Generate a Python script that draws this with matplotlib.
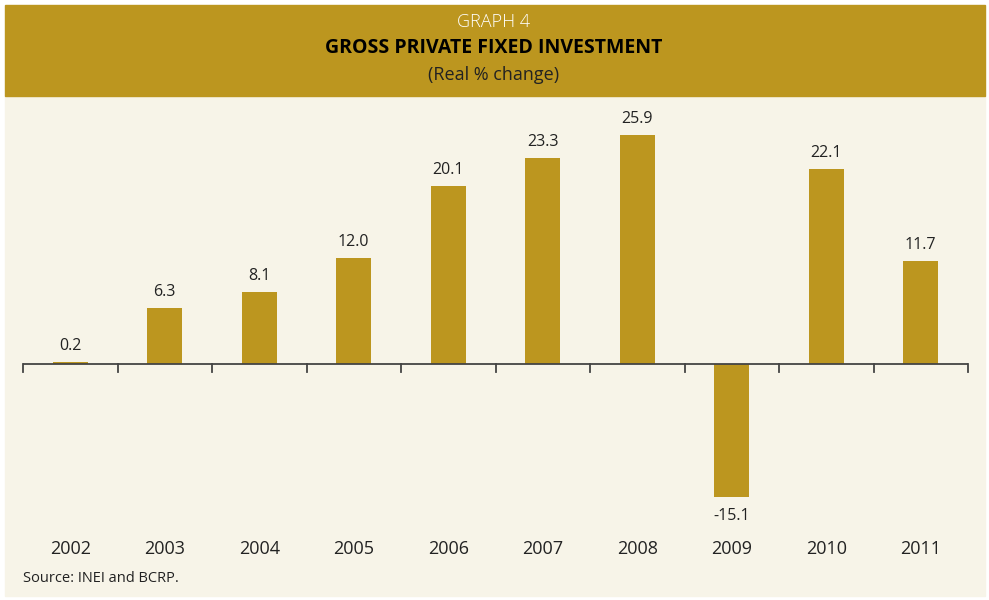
import matplotlib.pyplot as plt
from matplotlib.patches import Rectangle
import numpy as np

years = ['2002', '2003', '2004', '2005', '2006', '2007', '2008', '2009', '2010', '2011']
growth = [0.2, 6.3, 8.1, 12.0, 20.1, 23.3, 25.9, -15.1, 22.1, 11.7]

gold = '#BC961F'
cream = '#F7F4E8'

plt.rcParams['font.family'] = ['Open Sans', 'DejaVu Sans']

fig = plt.figure(figsize=(9.89, 6), dpi=100)
W, H = 989, 600

# background panels (kept behind the axes)
fig.patches.append(Rectangle((5/W, 4/H), 980/W, 500/H, transform=fig.transFigure,
                             color=cream, zorder=-2))
fig.patches.append(Rectangle((5/W, 1 - 96/H), 980/W, 91/H, transform=fig.transFigure,
                             color=gold, zorder=-1))

fig.text(494/W, 1 - 22/H, 'GRAPH 4', ha='center', va='center', color='white',
         fontsize=13, fontweight='light')
fig.text(494/W, 1 - 48/H, 'GROSS PRIVATE FIXED INVESTMENT', ha='center', va='center',
         color='black', fontsize=14, fontweight='bold')
fig.text(494/W, 1 - 75/H, '(Real % change)', ha='center', va='center', color='#222222',
         fontsize=13)

# axes: zero line at y=364px, 8.84 px per point
ax = fig.add_axes([23/W, 1 - 520/H, 945/W, 420/H])
ax.set_facecolor('none')
x = np.arange(len(years))
ax.bar(x, growth, width=0.37, color=gold, zorder=2)
ax.set_xlim(-0.5, len(years) - 0.5)
ax.set_ylim(-156/8.84, 264/8.84)

for xi, v in zip(x, growth):
    if v >= 0:
        ax.text(xi, v + 0.9, f'{v:.1f}', ha='center', va='bottom', fontsize=11.5, color='#222222')
    else:
        ax.text(xi, v - 1.2, f'{v:.1f}', ha='center', va='top', fontsize=11.5, color='#222222')

ax.axhline(0, color='#444444', lw=1.3, zorder=3)
for xt in np.arange(-0.5, len(years), 1.0):
    ax.plot([xt, xt], [0, -0.9], color='#444444', lw=1.3, zorder=3, clip_on=False)

for s in ax.spines.values():
    s.set_visible(False)
ax.set_xticks([])
ax.set_yticks([])

for xi, yr in zip(x, years):
    ax.text(xi, -20.9, yr, ha='center', va='center', fontsize=13, color='#222222')

fig.text(23/W, 1 - 578/H, 'Source: INEI and BCRP.', ha='left', va='center', fontsize=10.5,
         color='#222222')

fig.savefig('out.png', dpi=100, facecolor='white')
